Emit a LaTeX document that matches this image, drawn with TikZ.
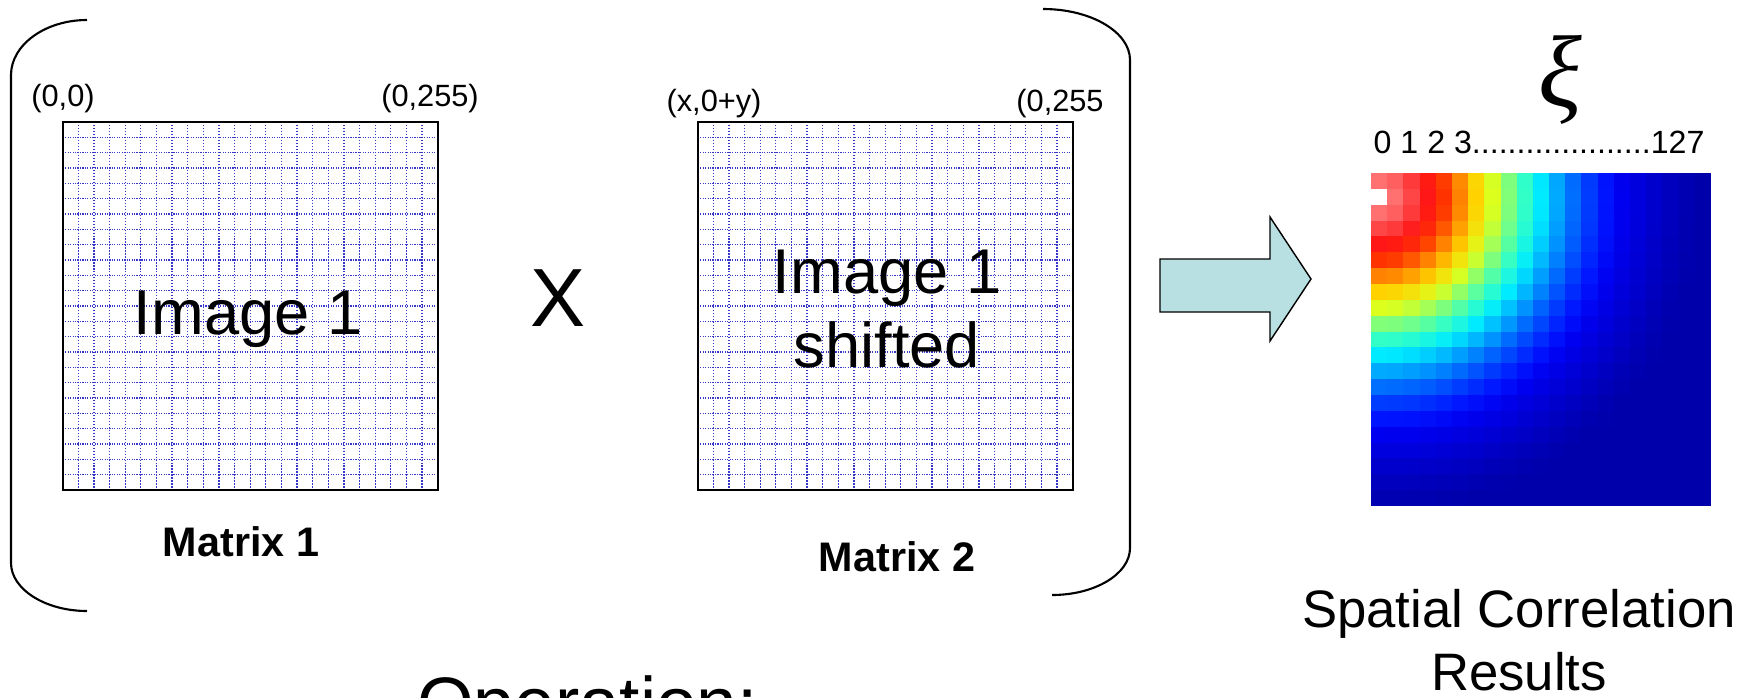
\documentclass[tikz,border=0pt]{standalone}
\usepackage{fontspec}
\setmainfont{Liberation Sans}
\newfontfamily\xifont{Liberation Serif}

% heat map palette, hot to cold
\definecolor{hm0}{RGB}{255,255,255}
\definecolor{hm1}{RGB}{255,112,112}
\definecolor{hm2}{RGB}{255,70,70}
\definecolor{hm3}{RGB}{255,22,22}
\definecolor{hm4}{RGB}{255,50,0}
\definecolor{hm5}{RGB}{255,130,0}
\definecolor{hm6}{RGB}{255,210,0}
\definecolor{hm7}{RGB}{220,255,30}
\definecolor{hm8}{RGB}{130,255,120}
\definecolor{hm9}{RGB}{50,255,200}
\definecolor{hm10}{RGB}{0,235,255}
\definecolor{hm11}{RGB}{0,170,255}
\definecolor{hm12}{RGB}{0,110,255}
\definecolor{hm13}{RGB}{0,60,255}
\definecolor{hm14}{RGB}{0,20,255}
\definecolor{hm15}{RGB}{0,0,240}
\definecolor{hm16}{RGB}{0,0,222}
\definecolor{hm17}{RGB}{0,0,205}
\definecolor{hm18}{RGB}{0,0,190}
\definecolor{hm19}{RGB}{0,0,178}
\definecolor{hm20}{RGB}{0,0,170}
\definecolor{hm21}{RGB}{0,0,170}
\definecolor{gridblue}{RGB}{55,55,200}
\definecolor{arrowfill}{RGB}{184,224,226}

\begin{document}
\begin{tikzpicture}[
	x=0.02cm, y=-0.02cm,
	lbl/.style={font=\fontsize{17.5}{21}\selectfont},
	big/.style={font=\fontsize{36}{43}\selectfont, anchor=base},
	times/.style={font=\fontsize{47}{56}\selectfont},
	mlabel/.style={font=\fontsize{23.5}{28}\selectfont\bfseries},
	ticks/.style={font=\fontsize{18.3}{22}\selectfont},
	caption/.style={font=\fontsize{30}{36}\selectfont, anchor=base},
	gridv/.style={gridblue, line width=0.75pt, dash pattern=on 0.65pt off 1.05pt},
	gridh/.style={gridblue, line width=0.75pt, dash pattern=on 0.65pt off 0.75pt},
	matbox/.style={draw=black, line width=1.1pt},
	brk/.style={line width=1.2pt},
	blockarrow/.style={draw=black, line width=0.8pt, fill=arrowfill, line join=miter}
	]
	\useasboundingbox (0,0) rectangle (1749,697);
	\clip (0,0) rectangle (1749,697);
	
	% The two matrices
	\foreach \gx in {62.7,697.7} {
		\foreach \k in {1,...,23} {
			\draw[gridv] (\gx+\k*15.625,122) -- ++(0,368);
			\draw[gridh] (\gx,122+\k*15.333) -- ++(375,0);
		}
		\draw[matbox] (\gx,122) rectangle ++(375,368);
	}
	
	% Corner labels
	\node[lbl] (o1) at (63,99) {(0,0)};
	\node[lbl] (e1) at (430,99) {(0,255)};
	\node[lbl] (o2) at (714,104) {(x,0+y)};
	\node[lbl] (e2) at (1060,104) {(0,255};
	
	% Contents and names
	\node[big] (img1) at (248,334) {Image 1};
	\node[big] (img2a) at (887,293) {Image 1};
	\node[big] (img2b) at (887,367) {shifted};
	\node[times] (times) at (558,298) {X};
	\node[mlabel] (mat1) at (241,542) {Matrix 1};
	\node[mlabel] (mat2) at (897,557) {Matrix 2};
	
	% Brackets
	\draw[brk] (87,20) .. controls (45,20) and (11,45) .. (11,75)
		-- (11,563) .. controls (11,589) and (45,611) .. (87,611);
	\draw[brk] (1043,9) .. controls (1091,9) and (1130,32) .. (1130,60)
		-- (1130,548) .. controls (1130,574) and (1095,595) .. (1052,595);
	
	% Arrow to the result
	\draw[blockarrow] (1160,259) -- (1270,259) -- (1270,217) -- (1311,279)
		-- (1270,341) -- (1270,312) -- (1160,312) -- cycle;
	
	% Correlation map
	\foreach \i in {0,...,20} {
		\foreach \j in {0,...,20} {
			\pgfmathsetmacro{\rr}{min(sqrt((\i-1)^2+\j^2),20.99)}
			\pgfmathtruncatemacro{\k}{floor(\rr)}
			\pgfmathtruncatemacro{\kk}{\k+1}
			\pgfmathtruncatemacro{\p}{round((\rr-\k)*100)}
			\fill[hm\kk!\p!hm\k] (1371+\j*16.19,173+\i*15.86) rectangle ++(16.5,16.2);
		}
	}
	\node[font=\fontsize{58}{66}\selectfont\xifont\itshape] (xi) at (1560,80) {ξ};
	\node[ticks] (axis) at (1539,142) {0 1 2 3....................127};
	\node[caption] (res1) at (1519,627) {Spatial Correlation};
	\node[caption] (res2) at (1519,690) {Results};
	
	% Cut at the bottom
	\node[font=\fontsize{41.5}{50}\selectfont, anchor=base west] (op) at (411,728) {Operation:};
\end{tikzpicture}
\end{document}
